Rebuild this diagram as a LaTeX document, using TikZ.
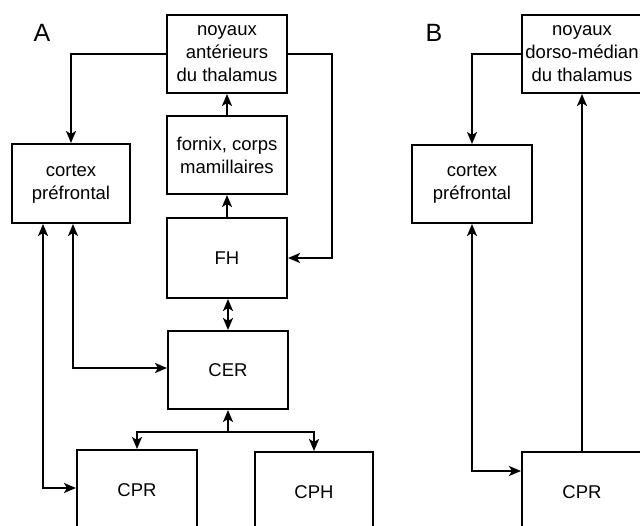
\documentclass[tikz,border=0pt]{standalone}
\usepackage{fontspec}
\setmainfont{Liberation Sans}
\usetikzlibrary{arrows.meta}
\begin{document}
\begin{tikzpicture}[x=1pt,y=-1pt,
  box/.style={draw=black, line width=2pt, inner sep=0pt, align=center,
    font=\fontsize{18.5}{23}\selectfont, minimum width=120pt, minimum height=78pt},
  lab/.style={font=\fontsize{25}{28}\selectfont, inner sep=0pt},
  arr/.style={line width=2pt, -{Stealth[length=12pt,width=10pt,inset=3pt]}},
  darr/.style={line width=2pt, {Stealth[length=12pt,width=10pt,inset=3pt]}-{Stealth[length=12pt,width=10pt,inset=3pt]}}]
\useasboundingbox (0,0) rectangle (640,526);
\clip (0,0) rectangle (640,526);
\fill[white] (0,0) rectangle (640,526);
% panel A
\node[lab] (lA) at (42,33) {A};
\node[box] (nA) at (227,54) {noyaux\\antérieurs\\du thalamus};
\node[box] (fx) at (227,155) {fornix, corps\\mamillaires};
\node[box, minimum height=80pt] (FH) at (227,258) {FH};
\node[box, minimum width=118pt, minimum height=79pt] (cpfA) at (71,183.5) {cortex\\préfrontal};
\node[box] (CER) at (228,370) {CER};
\node[box, minimum height=80pt] (CPRA) at (137,490) {CPR};
\node[box, minimum width=118pt, minimum height=80pt] (CPH) at (314,492) {CPH};
\coordinate (br) at (228,432);
\draw[arr] (nA.west) -| (cpfA.north);
\draw[arr] (nA.east) -- ++(44,0) |- (FH.east);
\draw[arr] (fx.north) -- (nA.south);
\draw[arr] (FH.north) -- (fx.south);
\draw[darr] (FH.south -| CER) -- (CER.north);
\draw[arr] (br) -- (CER.south);
\draw[arr] (br) -| (CPRA.north);
\draw[arr] (br) -| (CPH.north);
\draw[darr] ([xshift=-28pt]cpfA.south) |- ([yshift=2pt]CPRA.west);
\draw[darr] ([xshift=2pt]cpfA.south) |- ([yshift=2pt]CER.west);
% panel B
\node[lab] (lB) at (434,33) {B};
\node[box] (nB) at (582,54) {noyaux\\dorso-médian\\du thalamus};
\node[box] (cpfB) at (472,184) {cortex\\préfrontal};
\node[box, minimum height=80pt] (CPRB) at (582,492) {CPR};
\draw[arr] (nB.west) -| (cpfB.north);
\draw[arr] (CPRB.north) -- (nB.south);
\draw[darr] (cpfB.south) |- ([yshift=21pt]CPRB.west);
\end{tikzpicture}
\end{document}
